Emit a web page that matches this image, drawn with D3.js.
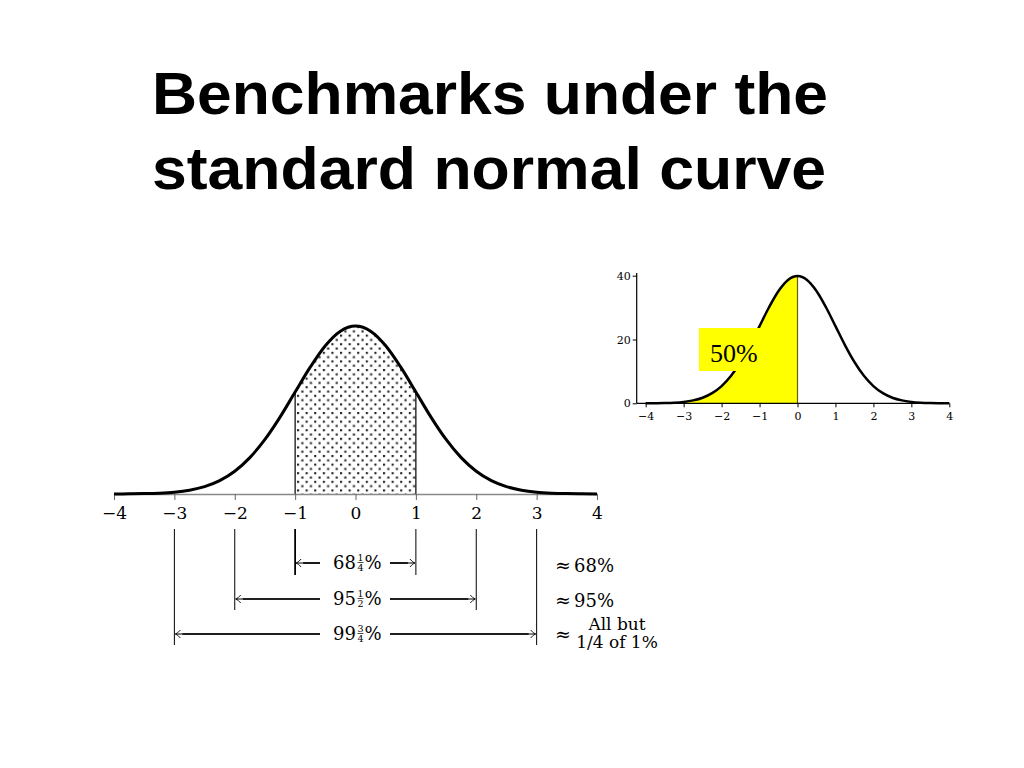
<!DOCTYPE html>
<html>
<head>
<meta charset="utf-8">
<script src="https://cdn.jsdelivr.net/npm/d3@7"></script>
<style>
  html, body { margin: 0; padding: 0; background: #fff; }
  svg { display: block; }
</style>
</head>
<body>
<svg id="chart" width="1024" height="768"></svg>
<script>
// ---- data ----
const titleLines = ["Benchmarks under the", "standard normal curve"];
const zValues = [-4,-3.75,-3.5,-3.25,-3,-2.75,-2.5,-2.25,-2,-1.75,-1.5,-1.25,-1,-0.75,-0.5,-0.25,0,
                 0.25,0.5,0.75,1,1.25,1.5,1.75,2,2.25,2.5,2.75,3,3.25,3.5,3.75,4];
const densities = [0.0001,0.0004,0.0009,0.0020,0.0044,0.0091,0.0175,0.0317,0.0540,0.0863,0.1295,0.1826,0.2420,0.3011,0.3521,0.3867,0.3989,
                   0.3867,0.3521,0.3011,0.2420,0.1826,0.1295,0.0863,0.0540,0.0317,0.0175,0.0091,0.0044,0.0020,0.0009,0.0004,0.0001];
const xTicks = [-4,-3,-2,-1,0,1,2,3,4];
const insetYTicks = [0,20,40];
const benchK = [1,2,3];
const benchWhole = ["68","95","99"];
const benchNum = ["1","1","3"];
const benchDen = ["4","2","4"];
const benchApprox = ["68%","95%",null];
const lastApprox = ["All but","1/4 of 1%"];
const insetLabel = "50%";

const pts = zValues.map((z,i)=>({z, d: densities[i]}));
const svg = d3.select("#chart");
const serif = "'DejaVu Serif', 'Liberation Serif', serif";
const serif2 = "'Liberation Serif', 'DejaVu Serif', serif";
const fmt = d => d < 0 ? "\u2212" + Math.abs(d) : String(d);

// ---- title ----
const titleW = [676, 674];
svg.selectAll("text.title").data(titleLines).join("text")
  .attr("class","title")
  .attr("x",152).attr("y",(d,i)=>114+i*75)
  .attr("textLength",(d,i)=>titleW[i]).attr("lengthAdjust","spacingAndGlyphs")
  .style("font-family","'Liberation Sans', Arial, sans-serif")
  .style("font-weight","bold").style("font-size","59px").style("fill","#000")
  .text(d=>d);

// ---- main chart ----
const x = d3.scaleLinear().domain([-4,4]).range([114,597]);
const y = d3.scaleLinear().domain([0,0.3989]).range([494,326]);

const defs = svg.append("defs");
const pat = defs.append("pattern").attr("id","dots")
  .attr("patternUnits","userSpaceOnUse").attr("width",8.6).attr("height",8.6)
  .attr("x",297).attr("y",326);
pat.append("rect").attr("x",0).attr("y",0).attr("width",2.1).attr("height",2.1).attr("fill","#222");
pat.append("rect").attr("x",4.3).attr("y",4.3).attr("width",2.1).attr("height",2.1).attr("fill","#222");

const area = d3.area().x(p=>x(p.z)).y0(y(0)).y1(p=>y(p.d)).curve(d3.curveMonotoneX);
const line = d3.line().x(p=>x(p.z)).y(p=>y(p.d)).curve(d3.curveMonotoneX);

const mid = pts.filter(p=>p.z>=-1 && p.z<=1);
svg.append("path").datum(mid).attr("d",area).attr("fill","url(#dots)");
[-1,1].forEach(v=>{
  svg.append("line").attr("x1",x(v)).attr("x2",x(v))
    .attr("y1",y(0)).attr("y2",y(densities[zValues.indexOf(v)]))
    .attr("stroke","#000").attr("stroke-width",1.2);
});

const ax = svg.append("g").attr("transform",`translate(0,${y(0)})`)
  .call(d3.axisBottom(x).tickValues(xTicks).tickSize(6).tickSizeOuter(0).tickFormat(fmt));
ax.select(".domain").attr("stroke","#888").attr("stroke-width",1.5);
ax.selectAll(".tick line").attr("stroke","#666").attr("stroke-width",1);
ax.selectAll(".tick text").attr("y",13).attr("dy","0.71em")
  .style("font-family",serif).style("font-size","17px").attr("fill","#000");

svg.append("path").datum(pts).attr("d",line)
  .attr("fill","none").attr("stroke","#000").attr("stroke-width",3);

// ---- benchmark brackets ----
const rowY = [563, 599, 634];
const lineBottom = [575, 610, 645];
const approxBase = [572, 607, 641];
const gapL = 320, gapR = 390;
const cx = x(0);
benchK.forEach((k,i)=>{
  const xl = x(-k), xr = x(k), yy = rowY[i];
  [xl,xr].forEach(xx=>{
    svg.append("line").attr("x1",xx).attr("x2",xx).attr("y1",529).attr("y2",lineBottom[i])
      .attr("stroke","#000").attr("stroke-width", k===1 && xx<cx ? 1.8 : 1);
  });
  const g = svg.append("g");
  // arrow shafts
  g.append("line").attr("x1",xl+1).attr("x2",gapL).attr("y1",yy).attr("y2",yy)
    .attr("stroke","#000").attr("stroke-width",1);
  g.append("line").attr("x1",xl+8).attr("x2",gapL).attr("y1",yy).attr("y2",yy)
    .attr("stroke","#000").attr("stroke-width",1.6);
  g.append("line").attr("x1",gapR).attr("x2",xr-1).attr("y1",yy).attr("y2",yy)
    .attr("stroke","#000").attr("stroke-width",1);
  g.append("line").attr("x1",gapR).attr("x2",xr-8).attr("y1",yy).attr("y2",yy)
    .attr("stroke","#000").attr("stroke-width",1.6);
  // arrow heads
  g.append("path").attr("d",`M${xl+6},${yy-4} Q${xl+3},${yy-0.5} ${xl+1},${yy} Q${xl+3},${yy+0.5} ${xl+6},${yy+4}`)
    .attr("fill","none").attr("stroke","#000").attr("stroke-width",0.9);
  g.append("path").attr("d",`M${xr-6},${yy-4} Q${xr-3},${yy-0.5} ${xr-1},${yy} Q${xr-3},${yy+0.5} ${xr-6},${yy+4}`)
    .attr("fill","none").attr("stroke","#000").attr("stroke-width",0.9);
  // label with fraction
  const base = yy + 6;
  g.append("text").attr("x",cx+0.5).attr("y",base).attr("text-anchor","end")
    .style("font-family",serif).style("font-size","18px").text(benchWhole[i]);
  g.append("text").attr("x",cx+5).attr("y",base-8).attr("text-anchor","middle")
    .style("font-family",serif).style("font-size","9.5px").text(benchNum[i]);
  g.append("line").attr("x1",cx+2).attr("x2",cx+8).attr("y1",base-6.5).attr("y2",base-6.5)
    .attr("stroke","#000").attr("stroke-width",0.7);
  g.append("text").attr("x",cx+5).attr("y",base+2).attr("text-anchor","middle")
    .style("font-family",serif).style("font-size","9.5px").text(benchDen[i]);
  g.append("text").attr("x",cx+9).attr("y",base).attr("text-anchor","start")
    .style("font-family",serif).style("font-size","18px").text("%");
  // approx
  g.append("text").attr("x",555).attr("y",approxBase[i])
    .style("font-family",serif).style("font-size","19px").text("\u2248");
  if (benchApprox[i]) {
    g.append("text").attr("x",574).attr("y",approxBase[i])
      .style("font-family",serif).style("font-size","18px").text(benchApprox[i]);
  } else {
    g.append("text").attr("x",617).attr("y",630).attr("text-anchor","middle")
      .style("font-family",serif).style("font-size","17px").text(lastApprox[0]);
    g.append("text").attr("x",617).attr("y",648).attr("text-anchor","middle")
      .style("font-family",serif).style("font-size","17px").text(lastApprox[1]);
  }
});

// ---- inset chart ----
const xi = d3.scaleLinear().domain([-4,4]).range([645.7,949.3]);
const yi = d3.scaleLinear().domain([0,40]).range([403.3,275.7]);
const pctPts = pts.map(p=>({z:p.z, v:p.d*100}));
const left = pctPts.filter(p=>p.z<=0);
const areaI = d3.area().x(p=>xi(p.z)).y0(yi(0)).y1(p=>yi(p.v)).curve(d3.curveMonotoneX);
const lineI = d3.line().x(p=>xi(p.z)).y(p=>yi(p.v)).curve(d3.curveMonotoneX);

svg.append("path").datum(left).attr("d",areaI).attr("fill","#ffff00");
svg.append("line").attr("x1",xi(0)).attr("x2",xi(0)).attr("y1",yi(0)).attr("y2",yi(densities[zValues.indexOf(0)]*100))
  .attr("stroke","#6b5a00").attr("stroke-width",1.2);

const axI = svg.append("g").attr("transform",`translate(0,${yi(0)})`)
  .call(d3.axisBottom(xi).tickValues(xTicks).tickSize(4).tickSizeOuter(0).tickFormat(fmt));
axI.select(".domain").attr("d",`M636.7,0H${xi(4)}`).attr("stroke","#000").attr("stroke-width",1.2);
axI.selectAll(".tick text").attr("y",9).attr("dy","0.71em")
  .style("font-family",serif).style("font-size","11px").attr("fill","#000");

const ayI = svg.append("g").attr("transform","translate(636.7,0)")
  .call(d3.axisLeft(yi).tickValues(insetYTicks).tickSize(4).tickSizeOuter(0));
ayI.select(".domain").attr("d",`M0,${yi(0)}V273`).attr("stroke","#000").attr("stroke-width",1.2);
ayI.selectAll(".tick text").attr("x",-6)
  .style("font-family",serif).style("font-size","11px").attr("fill","#000");

svg.append("path").datum(pctPts).attr("d",lineI)
  .attr("fill","none").attr("stroke","#000").attr("stroke-width",2.5);

svg.append("rect").attr("x",699).attr("y",328).attr("width",63).attr("height",43).attr("fill","#ffff00");
svg.append("text").attr("x",710).attr("y",362)
  .style("font-family",serif2).style("font-size","26px").text(insetLabel);
</script>
</body>
</html>
